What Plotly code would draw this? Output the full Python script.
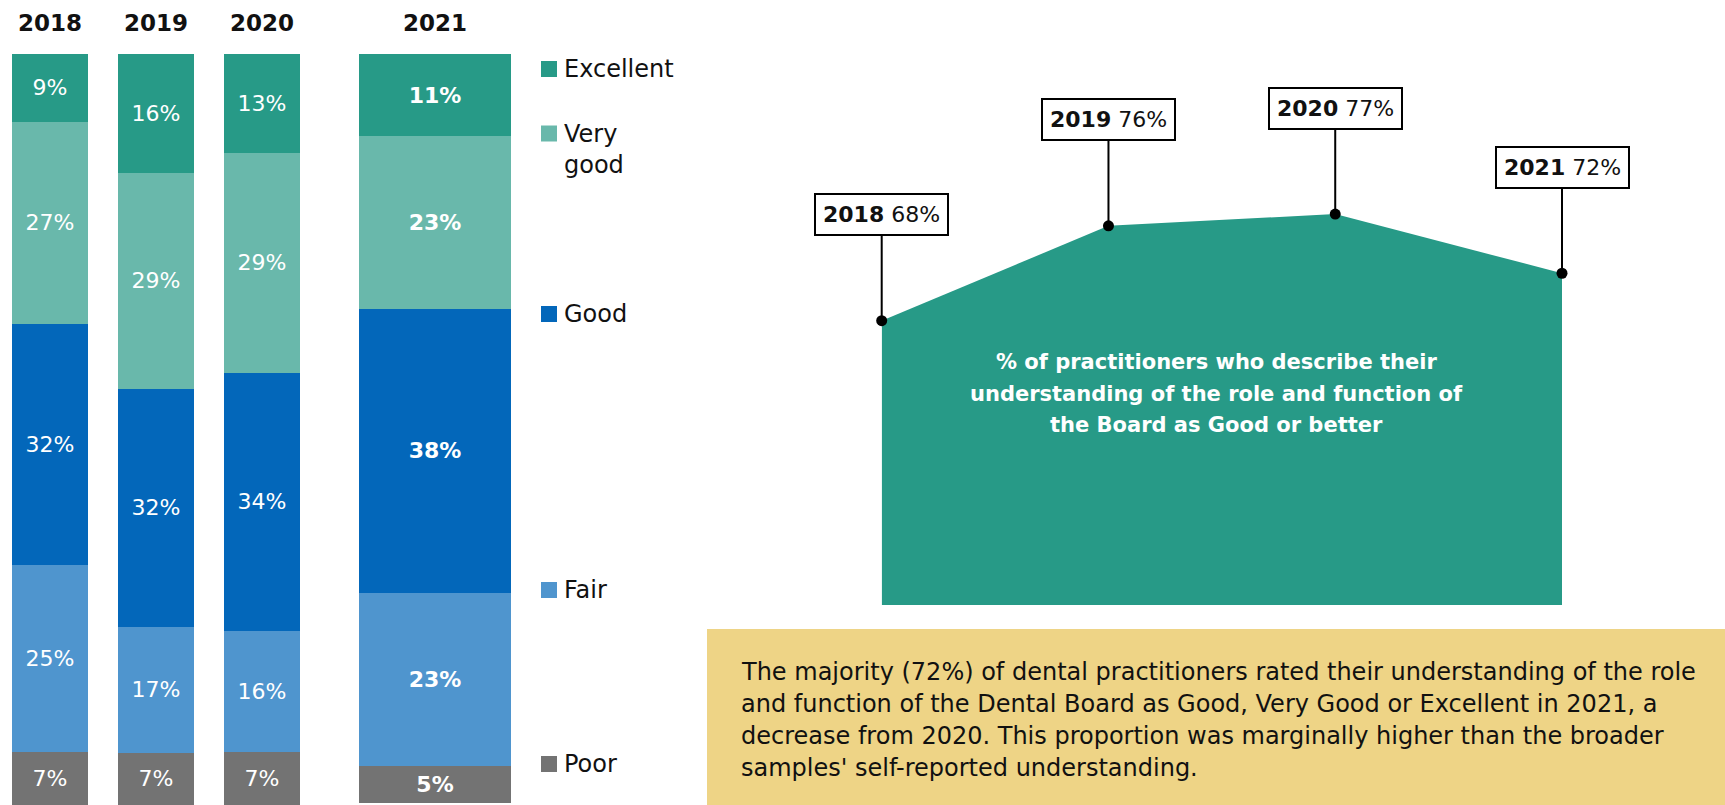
import plotly.graph_objects as go

# ---- data -------------------------------------------------------------
years = ["2018", "2019", "2020", "2021"]
ratings = ["Excellent", "Very good", "Good", "Fair", "Poor"]
excellent = [9, 16, 13, 11]
very_good = [27, 29, 29, 23]
good = [32, 32, 34, 38]
fair = [25, 17, 16, 23]
poor = [7, 7, 7, 5]
good_or_better = [68, 76, 77, 72]

area_caption = [
    "% of practitioners who describe their",
    "understanding of the role and function of",
    "the Board as Good or better",
]
summary_lines = [
    "The majority (72%) of dental practitioners rated their understanding of the role",
    "and function of the Dental Board as Good, Very Good or Excellent in 2021, a",
    "decrease from 2020. This proportion was marginally higher than the broader",
    "samples' self-reported understanding.",
]

# ---- styling ----------------------------------------------------------
W, H = 1725, 805
FONT = "DejaVu Sans, sans-serif"
INK = "#111111"
colors = {
    "Excellent": "#279A87",
    "Very good": "#69B8AB",
    "Good": "#0367BA",
    "Fair": "#4F95CE",
    "Poor": "#737373",
}
series = dict(zip(ratings, [excellent, very_good, good, fair, poor]))
stack_order = ["Poor", "Fair", "Good", "Very good", "Excellent"]


def fx(px):
    return px / W


def fy(py):
    return 1 - py / H


fig = go.Figure()

# stacked bars: 2018-2020 on one axis, 2021 (wider) on its own axis
for name in stack_order:
    vals = series[name]
    fig.add_bar(
        x=years[:3], y=vals[:3], text=[f"{v}%" for v in vals[:3]],
        width=0.717, marker=dict(color=colors[name], line=dict(width=0)),
        textposition="inside", insidetextanchor="middle", textangle=0,
        textfont=dict(color="white", size=22, family=FONT),
        xaxis="x", yaxis="y", showlegend=False, hoverinfo="skip",
    )
    fig.add_bar(
        x=years[3:], y=vals[3:], text=[f"{v}%" for v in vals[3:]],
        width=1, marker=dict(color=colors[name], line=dict(width=0)),
        textposition="inside", insidetextanchor="middle", textangle=0,
        textfont=dict(color="white", size=22, family=FONT, weight="bold"),
        xaxis="x2", yaxis="y2", showlegend=False, hoverinfo="skip",
    )

# hand-placed legend: square plus label (multi-word labels wrap per word)
legend_rows = {"Excellent": 69, "Very good": 133.5, "Good": 314, "Fair": 590, "Poor": 764}
shapes = []
annotations = []
for name in ratings:
    cy = legend_rows[name]
    shapes.append(dict(
        type="rect", xref="paper", yref="paper",
        x0=fx(541), x1=fx(557), y0=fy(cy + 8), y1=fy(cy - 8),
        fillcolor=colors[name], line=dict(width=0),
    ))
    for i, word in enumerate(name.split(" ")):
        annotations.append(dict(
            xref="paper", yref="paper", x=fx(562), y=fy(cy + i * 31),
            xanchor="left", yanchor="middle", showarrow=False,
            text=word, font=dict(size=24, color=INK, family=FONT),
        ))

# area chart of "Good or better" on a numeric year axis
year_nums = [int(y) for y in years]
teal = colors["Excellent"]
fig.add_scatter(
    x=year_nums, y=good_or_better, mode="lines", fill="tozeroy",
    fillcolor=teal, line=dict(width=0, color=teal),
    xaxis="x3", yaxis="y3", showlegend=False, hoverinfo="skip",
)
fig.add_scatter(
    x=year_nums, y=good_or_better, mode="markers",
    marker=dict(color="black", size=11), cliponaxis=False,
    xaxis="x3", yaxis="y3", showlegend=False, hoverinfo="skip",
)
for yr, v in zip(year_nums, good_or_better):
    annotations.append(dict(
        x=yr, y=v, xref="x3", yref="y3",
        text=f"<b>{yr}</b> {v}%", showarrow=True,
        arrowhead=0, arrowwidth=2, arrowcolor="black", standoff=0,
        ax=0, ay=-106,
        bgcolor="white", bordercolor="black",
        borderwidth=2, borderpad=7,
        font=dict(size=22, color=INK, family=FONT),
    ))

for i, line in enumerate(area_caption):
    annotations.append(dict(
        xref="paper", yref="paper", x=fx(1216), y=fy(362 + i * 31.5),
        xanchor="center", yanchor="middle", showarrow=False,
        text=f"<b>{line}</b>", font=dict(size=21, color="white", family=FONT),
    ))

# summary panel
shapes.append(dict(
    type="rect", xref="paper", yref="paper",
    x0=fx(707), x1=1, y0=0, y1=fy(629),
    fillcolor="#EED486", line=dict(width=0), layer="below",
))
for i, line in enumerate(summary_lines):
    annotations.append(dict(
        xref="paper", yref="paper", x=fx(739), y=fy(672 + i * 32),
        xanchor="left", yanchor="middle", showarrow=False,
        text=line, font=dict(size=24, color=INK, family=FONT),
    ))

bare = dict(showgrid=False, zeroline=False, showline=False, ticks="",
            showticklabels=False, fixedrange=True)
year_axis = dict(
    type="category", side="top", showgrid=False, zeroline=False, showline=False,
    ticks="", ticklabelstandoff=17, fixedrange=True,
    tickfont=dict(size=23, color=INK, family=FONT, weight="bold"),
)

fig.update_layout(
    width=W, height=H,
    margin=dict(l=0, r=0, t=0, b=0),
    paper_bgcolor="white", plot_bgcolor="rgba(0,0,0,0)",
    barmode="stack", barnorm="percent",
    xaxis=dict(domain=[0, fx(318)], range=[-50 / 106, 268 / 106], **year_axis),
    yaxis=dict(domain=[0, fy(54)], range=[0, 100], **bare),
    xaxis2=dict(domain=[fx(359), fx(511)], range=[-0.5, 0.5], anchor="y2", **year_axis),
    yaxis2=dict(domain=[fy(803), fy(54)], range=[0, 100], anchor="x2", **bare),
    xaxis3=dict(domain=[fx(881.7), fx(1562)], range=[year_nums[0], year_nums[-1]],
                type="linear", anchor="y3", **bare),
    yaxis3=dict(domain=[fy(605), fy(60)], range=[44, 90], anchor="x3", **bare),
    shapes=shapes,
    annotations=annotations,
    font=dict(family=FONT),
)

fig.write_html("out.html")
